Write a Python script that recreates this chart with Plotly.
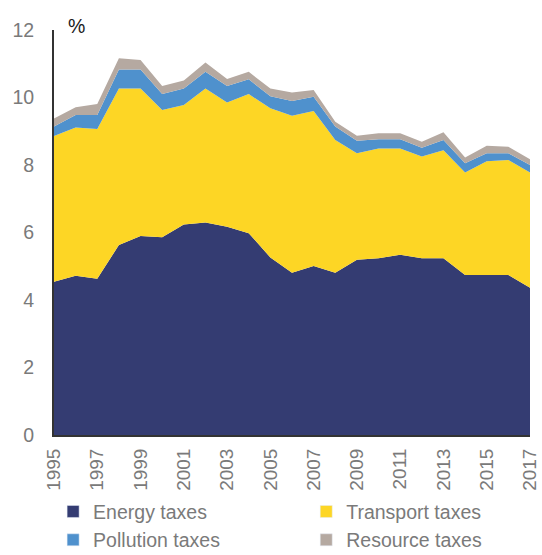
import plotly.graph_objects as go

years = list(range(1995, 2018))
energy = [4.54, 4.72, 4.63, 5.63, 5.90, 5.86, 6.24, 6.30, 6.17, 5.98, 5.26, 4.81,
          5.01, 4.81, 5.19, 5.24, 5.34, 5.24, 5.24, 4.74, 4.74, 4.74, 4.36]
transport = [4.32, 4.39, 4.44, 4.64, 4.37, 3.77, 3.54, 3.97, 3.68, 4.12, 4.42, 4.65,
             4.59, 3.93, 3.16, 3.25, 3.15, 3.01, 3.20, 3.04, 3.37, 3.41, 3.42]
pollution = [0.28, 0.37, 0.41, 0.56, 0.56, 0.47, 0.49, 0.49, 0.49, 0.44, 0.36, 0.44,
             0.42, 0.40, 0.37, 0.27, 0.27, 0.26, 0.30, 0.27, 0.24, 0.20, 0.22]
resource = [0.24, 0.23, 0.33, 0.33, 0.28, 0.24, 0.23, 0.28, 0.21, 0.22, 0.23, 0.25,
            0.20, 0.14, 0.15, 0.18, 0.18, 0.18, 0.23, 0.17, 0.22, 0.19, 0.17]

series = [
    ("Energy taxes", energy, "#343c72", "legend"),
    ("Transport taxes", transport, "#fdd625", "legend2"),
    ("Pollution taxes", pollution, "#4f91cd", "legend"),
    ("Resource taxes", resource, "#b5a9a1", "legend2"),
]

fig = go.Figure()
for name, vals, col, lg in series:
    fig.add_trace(go.Scatter(x=years, y=vals, name=name, stackgroup="one",
                             mode="none", fillcolor=col, showlegend=False,
                             hoverinfo="x+y+name"))
for name, vals, col, lg in series:
    fig.add_trace(go.Bar(x=[None], y=[None], name=name, marker_color=col,
                         showlegend=True, legend=lg))

font = "Liberation Sans, Arial, sans-serif"
grey = "#7a7a7a"
leg_common = dict(orientation="v", xanchor="left", yanchor="top",
                  xref="container", yref="container", traceorder="normal",
                  font=dict(size=19.5, color=grey), tracegroupgap=0,
                  itemwidth=30, bgcolor="rgba(0,0,0,0)")
fig.update_layout(
    width=542, height=555,
    margin=dict(l=54, r=12, t=30, b=120, autoexpand=False),
    paper_bgcolor="white", plot_bgcolor="white",
    font=dict(family=font, size=19, color=grey),
    showlegend=True,
    legend=dict(x=0.098, y=0.113, **leg_common),
    legend2=dict(x=0.565, y=0.113, **leg_common),
    xaxis=dict(range=[1995, 2017], tickmode="array",
               tickvals=list(range(1995, 2018, 2)),
               ticktext=[str(y) for y in range(1995, 2018, 2)],
               tickangle=-90, showgrid=False, zeroline=False,
               showline=True, linecolor="#333333", linewidth=2,
               ticks="outside", ticklen=4, tickcolor="rgba(0,0,0,0)",
               tickfont=dict(size=19, color=grey)),
    yaxis=dict(range=[0, 12], tickvals=[0, 2, 4, 6, 8, 10, 12],
               showgrid=False, zeroline=False, showline=True,
               linecolor="#333333", linewidth=2,
               ticks="outside", ticklen=14, tickcolor="rgba(0,0,0,0)",
               tickfont=dict(size=19.5, color=grey)),
    annotations=[dict(text="%", x=0.047, y=1.011, xref="paper", yref="paper",
                      xanchor="center", yanchor="middle", showarrow=False,
                      font=dict(size=19.5, color="#1a1a1a"))],
)

fig.write_html("out.html", config={"displayModeBar": False},
               post_script="document.body.style.margin='0';"
                           "document.body.style.padding='0';")
